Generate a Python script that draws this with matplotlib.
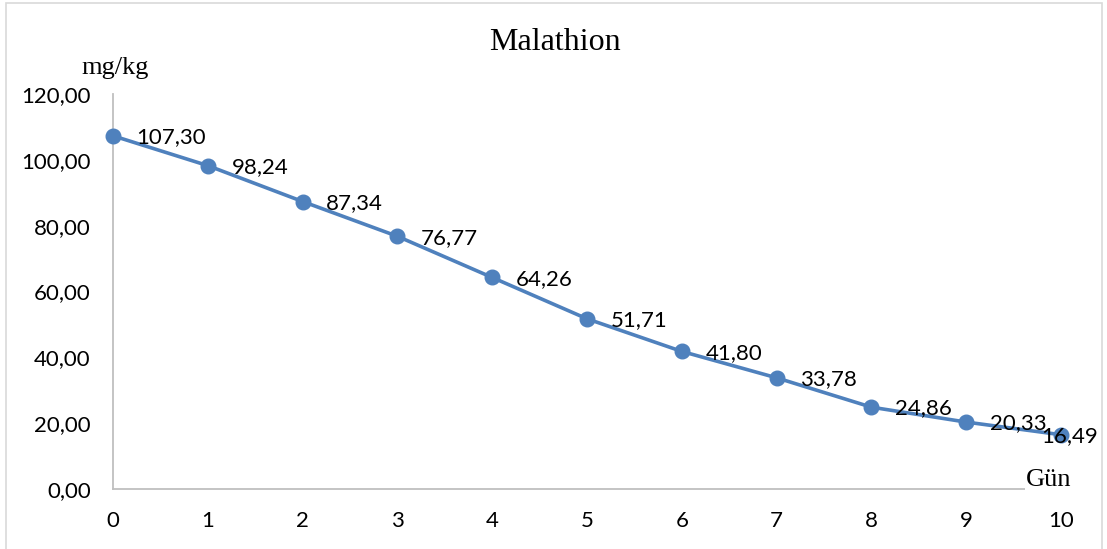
import matplotlib
matplotlib.use("Agg")
import matplotlib.pyplot as plt
from matplotlib.ticker import FuncFormatter
from matplotlib.patches import Rectangle

# Malathion residue over days
days = [0, 1, 2, 3, 4, 5, 6, 7, 8, 9, 10]
residue = [107.30, 98.24, 87.34, 76.77, 64.26, 51.71, 41.80, 33.78, 24.86, 20.33, 16.49]
y_ticks = [0, 20, 40, 60, 80, 100, 120]

W, H = 1107, 549
fig = plt.figure(figsize=(W / 100, H / 100), dpi=100)
ax = fig.add_axes([113 / W, 1 - 489 / H, (1061 - 113) / W, (489 - 94) / H])

blue = "#4F81BD"
grey = "#BFBFBF"
sans = "Lato"
serif = "Liberation Serif"

ax.plot(days, residue, color=blue, lw=2.6, marker="o", ms=10.5, zorder=3, clip_on=False)

def comma(v):
    return f"{v:.2f}".replace(".", ",")

for x, y in zip(days, residue):
    dx = 17 if x < 10 else -14
    ax.annotate(comma(y), (x, y), xytext=(dx, -1), textcoords="offset points",
                ha="left", va="center", fontsize=16, family=sans, color="black", zorder=4)

ax.set_xlim(0, 10)
ax.set_ylim(0, 120)
ax.set_xticks(days)
ax.set_yticks(y_ticks)
ax.yaxis.set_major_formatter(FuncFormatter(lambda v, p: comma(v)))
ax.tick_params(length=0, labelsize=16)
ax.tick_params(axis="x", pad=16)
ax.tick_params(axis="y", pad=16)
for lab in ax.get_xticklabels() + ax.get_yticklabels():
    lab.set_family(sans)

for s in ["top", "right"]:
    ax.spines[s].set_visible(False)
for s in ["left", "bottom"]:
    ax.spines[s].set_color(grey)
    ax.spines[s].set_linewidth(1.3)

fig.text(555 / W, 1 - 43 / H, "Malathion", ha="center", va="center", fontsize=23, family=serif)
fig.text(115 / W, 1 - 68 / H, "mg/kg", ha="center", va="center", fontsize=19, family=serif)
fig.text(1049 / W, 1 - 480 / H, "Gün", ha="center", va="center", fontsize=19, family=serif,
         bbox=dict(facecolor="white", edgecolor="none", pad=1), zorder=5)

fig.patches.append(Rectangle((6 / W, -0.01), (1102 - 6) / W, 1 - 3 / H + 0.01,
                             transform=fig.transFigure, fill=False, edgecolor="#D9D9D9", lw=1.2))

fig.savefig("out.png", dpi=100)
